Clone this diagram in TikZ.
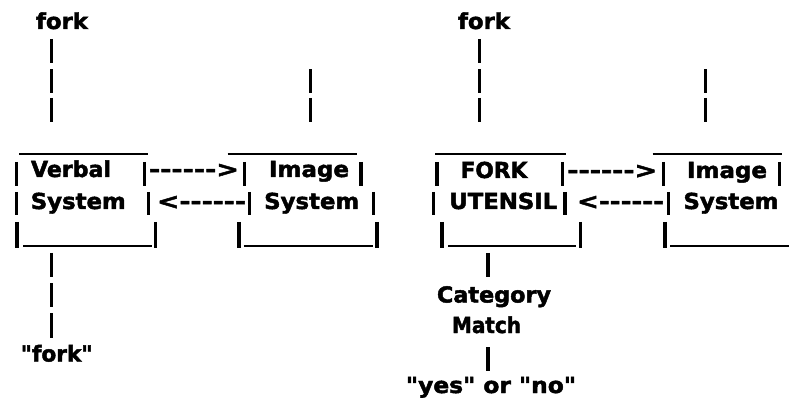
\documentclass[tikz,border=0pt]{standalone}
\usepackage{fontspec}
\newfontfamily\asc{DejaVu Sans Bold}[Ligatures=TeXOff,FakeBold=2]
\usepackage{graphicx}
\newcommand{\fitw}[2]{\resizebox{#1pt}{\height}{#2}}
\begin{document}
\begin{tikzpicture}[x=1pt,y=-1pt,
  txt/.style={anchor=base,inner sep=0pt,font=\fontsize{22}{24}\asc},
  bar/.style={line width=3.5pt},
  rule/.style={line width=2.5pt}]
\useasboundingbox (0,0) rectangle (789,403);
% ---------- texts ----------
\node[txt] (forkL) at (62,29) {\fitw{52}{fork}};
\node[txt] (forkR) at (484,29) {\fitw{52}{fork}};
\node[txt] (verbal) at (71,177) {\fitw{80}{Verbal}};
\node[txt] (systemV) at (78.3,209) {\fitw{95}{System}};
\node[txt] (imageL) at (309,177) {\fitw{80}{Image}};
\node[txt] (systemL) at (311.7,209) {\fitw{95}{System}};
\node[txt] (forkU) at (494,178) {\fitw{67}{FORK}};
\node[txt] (utensil) at (503.3,209) {\fitw{108}{UTENSIL}};
\node[txt] (imageR) at (727,178) {\fitw{80}{Image}};
\node[txt] (systemR) at (731,209) {\fitw{95}{System}};
\node[txt] (forkq) at (56.7,361.5) {\fitw{72}{"fork"}};
\node[txt] (category) at (494,302.5) {\fitw{114}{Category}};
\node[txt] (match) at (486.5,333) {\fitw{69}{Match}};
\node[txt] (yesno) at (491,393) {\fitw{170}{"yes" or "no"}};
% ---------- arrows (ASCII) ----------
\node[txt] (arrL1) at (194,177) {\fitw{90}{------>}};
\node[txt] (arrL2) at (201.5,209) {\fitw{89}{<------}};
\node[txt] (arrR1) at (612.3,178) {\fitw{90}{------>}};
\node[txt] (arrR2) at (620.5,209) {\fitw{87}{<------}};
% ---------- box tops ----------
\draw[rule] (19,154) -- (148,154);
\draw[rule] (227.7,154) -- (356.7,154);
\draw[rule] (435,154) -- (566,154);
\draw[rule] (652.7,154) -- (781.7,154);
% ---------- box bottoms ----------
\draw[rule] (23.3,246) -- (151.7,246);
\draw[rule] (243.5,246) -- (372.5,246);
\draw[rule] (448,246) -- (575.5,246);
\draw[rule] (670,246) -- (789,246);
% ---------- box side bars, row 1 ----------
\foreach \x in {16.5,144.7,244.5,361,437,562.5,663.5,779.5}
  \draw[bar] (\x,162) -- (\x,186);
% row 2
\foreach \x in {16.5,148.7,249.5,373.7,433.7,565,668.5}
  \draw[bar] (\x,192) -- (\x,215.5);
% row 3
\foreach \x in {17,155.3,239,377,442,580.5,665}
  \draw[bar] (\x,222) -- (\x,248);
% ---------- vertical connectors ----------
\foreach \x in {51.7,479.5}{
  \draw[bar] (\x,39) -- (\x,63);
}
\foreach \x in {51.7,310.3,479.5,705.3}{
  \draw[bar] (\x,69.5) -- (\x,93.5);
  \draw[bar] (\x,98) -- (\x,122);
}
\draw[bar] (51.7,253) -- (51.7,277);
\draw[bar] (51.7,283) -- (51.7,307);
\draw[bar] (51.7,313) -- (51.7,338);
\draw[bar] (488,253) -- (488,277);
\draw[bar] (488,347) -- (488,371);
\end{tikzpicture}
\end{document}
